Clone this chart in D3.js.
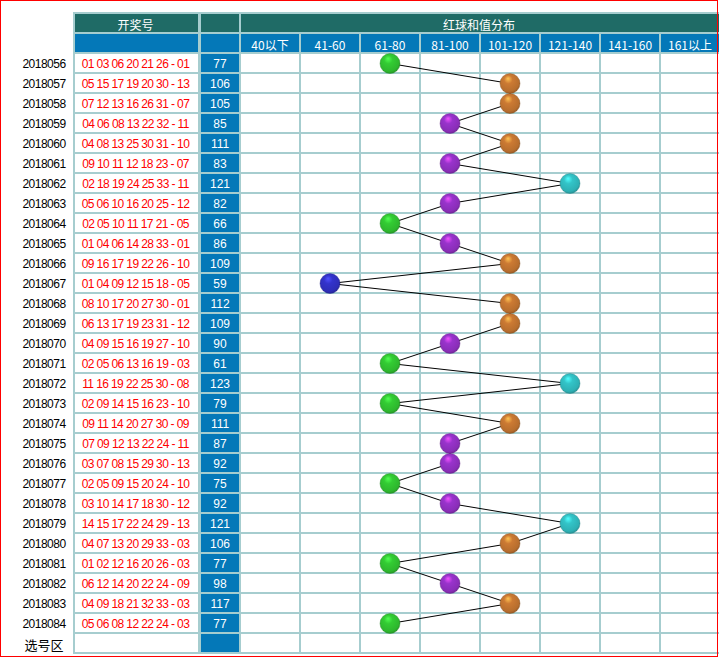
<!DOCTYPE html>
<html><head><meta charset="utf-8">
<script src="https://cdn.jsdelivr.net/npm/d3@7"></script>
<style>
html,body{margin:0;padding:0;background:#fff;}
svg{display:block;}
</style></head>
<body>
<svg id="c" width="719" height="658"></svg>
<script>
const issues = ["2018056","2018057","2018058","2018059","2018060","2018061","2018062","2018063","2018064","2018065","2018066","2018067","2018068","2018069","2018070","2018071","2018072","2018073","2018074","2018075","2018076","2018077","2018078","2018079","2018080","2018081","2018082","2018083","2018084"];
const draws = ["01 03 06 20 21 26 - 01","05 15 17 19 20 30 - 13","07 12 13 16 26 31 - 07","04 06 08 13 22 32 - 11","04 08 13 25 30 31 - 10","09 10 11 12 18 23 - 07","02 18 19 24 25 33 - 11","05 06 10 16 20 25 - 12","02 05 10 11 17 21 - 05","01 04 06 14 28 33 - 01","09 16 17 19 22 26 - 10","01 04 09 12 15 18 - 05","08 10 17 20 27 30 - 01","06 13 17 19 23 31 - 12","04 09 15 16 19 27 - 10","02 05 06 13 16 19 - 03","11 16 19 22 25 30 - 08","02 09 14 15 16 23 - 10","09 11 14 20 27 30 - 09","07 09 12 13 22 24 - 11","03 07 08 15 29 30 - 13","02 05 09 15 20 24 - 10","03 10 14 17 18 30 - 12","14 15 17 22 24 29 - 13","04 07 13 20 29 33 - 03","01 02 12 16 20 26 - 03","06 12 14 20 22 24 - 09","04 09 18 21 32 33 - 03","05 06 08 12 22 24 - 03"];
const sums = [77,106,105,85,111,83,121,82,66,86,109,59,112,109,90,61,123,79,111,87,92,75,92,121,106,77,98,117,77];
const bins = ["40以下","41-60","61-80","81-100","101-120","121-140","141-160","161以上"];
const binEdges = [41,61,81,101,121,141,161];
const binColors = ["#cc3333","#3333cc","#33cc33","#9933cc","#cc7a33","#33c4c8","#cc33aa","#888833"];
const titleLeft = "开奖号";
const titleRight = "红球和值分布";
const footerLabel = "选号区";

const svg = d3.select("#c");
const GRID = "#a6cdcf", GREEN = "#1f6b66", BLUE = "#0478b8";
const FONT_NUM = "'Liberation Sans', Arial, sans-serif";
const FONT_CJK = "'Noto Sans CJK SC', 'Liberation Sans', sans-serif";

const nRows = issues.length + 1;
const y = d3.scaleLinear().domain([0, 1]).range([54, 74]);
const rowH = 18;
const binIdx = d3.scaleThreshold().domain(binEdges).range(d3.range(bins.length));
const xBin = d3.scaleLinear().domain([0, 1]).range([241, 301]);
const bw = 58;
const colA = {x: 75, w: 123}, colB = {x: 201, w: 38};

svg.append("rect").attr("x", 73).attr("y", 12).attr("width", 646).attr("height", y(nRows) - 12).attr("fill", GRID);

const hdr = svg.append("g");
hdr.append("rect").attr("x", colA.x).attr("y", y(-2)).attr("width", colA.w).attr("height", rowH).attr("fill", GREEN);
hdr.append("rect").attr("x", colB.x).attr("y", y(-2)).attr("width", colB.w).attr("height", rowH).attr("fill", GREEN);
hdr.append("rect").attr("x", xBin(0)).attr("y", y(-2)).attr("width", 719 - xBin(0)).attr("height", rowH).attr("fill", GREEN);
hdr.append("rect").attr("x", colA.x).attr("y", y(-1)).attr("width", colA.w).attr("height", rowH).attr("fill", BLUE);
hdr.append("rect").attr("x", colB.x).attr("y", y(-1)).attr("width", colB.w).attr("height", rowH).attr("fill", BLUE);
hdr.selectAll("rect.b").data(bins).join("rect").attr("class","b")
  .attr("x", (d,i) => xBin(i)).attr("y", y(-1)).attr("width", (d,i) => i === bins.length-1 ? 719 - xBin(i) : bw).attr("height", rowH).attr("fill", BLUE);
hdr.append("text").attr("x", colA.x + colA.w/2 - 1).attr("y", y(-2) + rowH/2 + 1).text(titleLeft)
  .attr("text-anchor","middle").attr("dominant-baseline","central").attr("fill","#fff").attr("font-family",FONT_CJK).attr("font-size",12);
hdr.append("text").attr("x", (xBin(0) + 717)/2).attr("y", y(-2) + rowH/2 + 1).text(titleRight)
  .attr("text-anchor","middle").attr("dominant-baseline","central").attr("fill","#fff").attr("font-family",FONT_CJK).attr("font-size",12);
hdr.selectAll("text.bl").data(bins).join("text").attr("class","bl")
  .attr("x", (d,i) => xBin(i) + bw/2).attr("y", y(-1) + rowH/2 + 1).text(d => d)
  .attr("text-anchor","middle").attr("dominant-baseline","central").attr("fill","#fff").attr("font-family",FONT_CJK).attr("font-size",12);

const rowIdx = d3.range(nRows);
const rows = svg.append("g").selectAll("g").data(rowIdx).join("g");
rows.append("rect").attr("x", colA.x).attr("y", i => y(i)).attr("width", colA.w).attr("height", rowH).attr("fill", "#fff");
rows.append("rect").attr("x", colB.x).attr("y", i => y(i)).attr("width", colB.w).attr("height", rowH).attr("fill", BLUE);
rows.selectAll("rect.c").data(i => bins.map((b,j) => ({i, j}))).join("rect").attr("class","c")
  .attr("x", d => xBin(d.j)).attr("y", d => y(d.i)).attr("width", d => d.j === bins.length-1 ? 719 - xBin(d.j) : bw).attr("height", rowH).attr("fill", "#fff");

svg.append("g").selectAll("text").data(issues.concat([footerLabel])).join("text")
  .attr("x", 44).attr("y", (d,i) => y(i) + rowH/2 + 1).text(d => d)
  .attr("text-anchor","middle").attr("dominant-baseline","central")
  .attr("font-family", (d,i) => i < issues.length ? FONT_NUM : FONT_CJK)
  .attr("font-size", (d,i) => i < issues.length ? 12 : 13)
  .attr("letter-spacing", (d,i) => i < issues.length ? -0.5 : 0)
  .attr("fill", "#000");
svg.append("g").selectAll("text").data(draws).join("text")
  .attr("x", colA.x + colA.w/2 - 1).attr("y", (d,i) => y(i) + rowH/2 + 1).text(d => d)
  .attr("text-anchor","middle").attr("dominant-baseline","central")
  .attr("font-family", FONT_NUM).attr("font-size", 12).attr("letter-spacing", -0.6).attr("fill", "#ff0000");
svg.append("g").selectAll("text").data(sums).join("text")
  .attr("x", colB.x + colB.w/2).attr("y", (d,i) => y(i) + rowH/2 + 1).text(d => d)
  .attr("text-anchor","middle").attr("dominant-baseline","central")
  .attr("font-family", FONT_NUM).attr("font-size", 12).attr("fill", "#fff");

const defs = svg.append("defs");
binColors.forEach((c, k) => {
  const g = defs.append("radialGradient").attr("id", "ball" + k).attr("cx", "45%").attr("cy", "40%").attr("r", "60%").attr("fx", "40%").attr("fy", "25%");
  g.append("stop").attr("offset", "0%").attr("stop-color", d3.color(c).brighter(1.3));
  g.append("stop").attr("offset", "35%").attr("stop-color", c);
  g.append("stop").attr("offset", "85%").attr("stop-color", d3.color(c).darker(0.3));
  g.append("stop").attr("offset", "100%").attr("stop-color", d3.color(c).darker(0.8));
});
const pts = sums.map((s, i) => ({i, b: binIdx(s), x: xBin(binIdx(s)) + bw/2, y: y(i) + rowH/2 + 0.5}));
svg.append("path").datum(pts).attr("d", d3.line().x(d => d.x).y(d => d.y))
  .attr("fill", "none").attr("stroke", "#000").attr("stroke-width", 1);
svg.append("g").selectAll("circle").data(pts).join("circle")
  .attr("cx", d => d.x).attr("cy", d => d.y).attr("r", 10)
  .attr("fill", d => `url(#ball${d.b})`)
  .attr("stroke", d => d3.color(binColors[d.b]).darker(1.2)).attr("stroke-opacity", 0.5).attr("stroke-width", 0.8);

svg.append("rect").attr("x", 0.5).attr("y", 0.5).attr("width", 717).attr("height", 656)
  .attr("fill", "none").attr("stroke", "#ff0000").attr("stroke-width", 1);
</script>
</body></html>
